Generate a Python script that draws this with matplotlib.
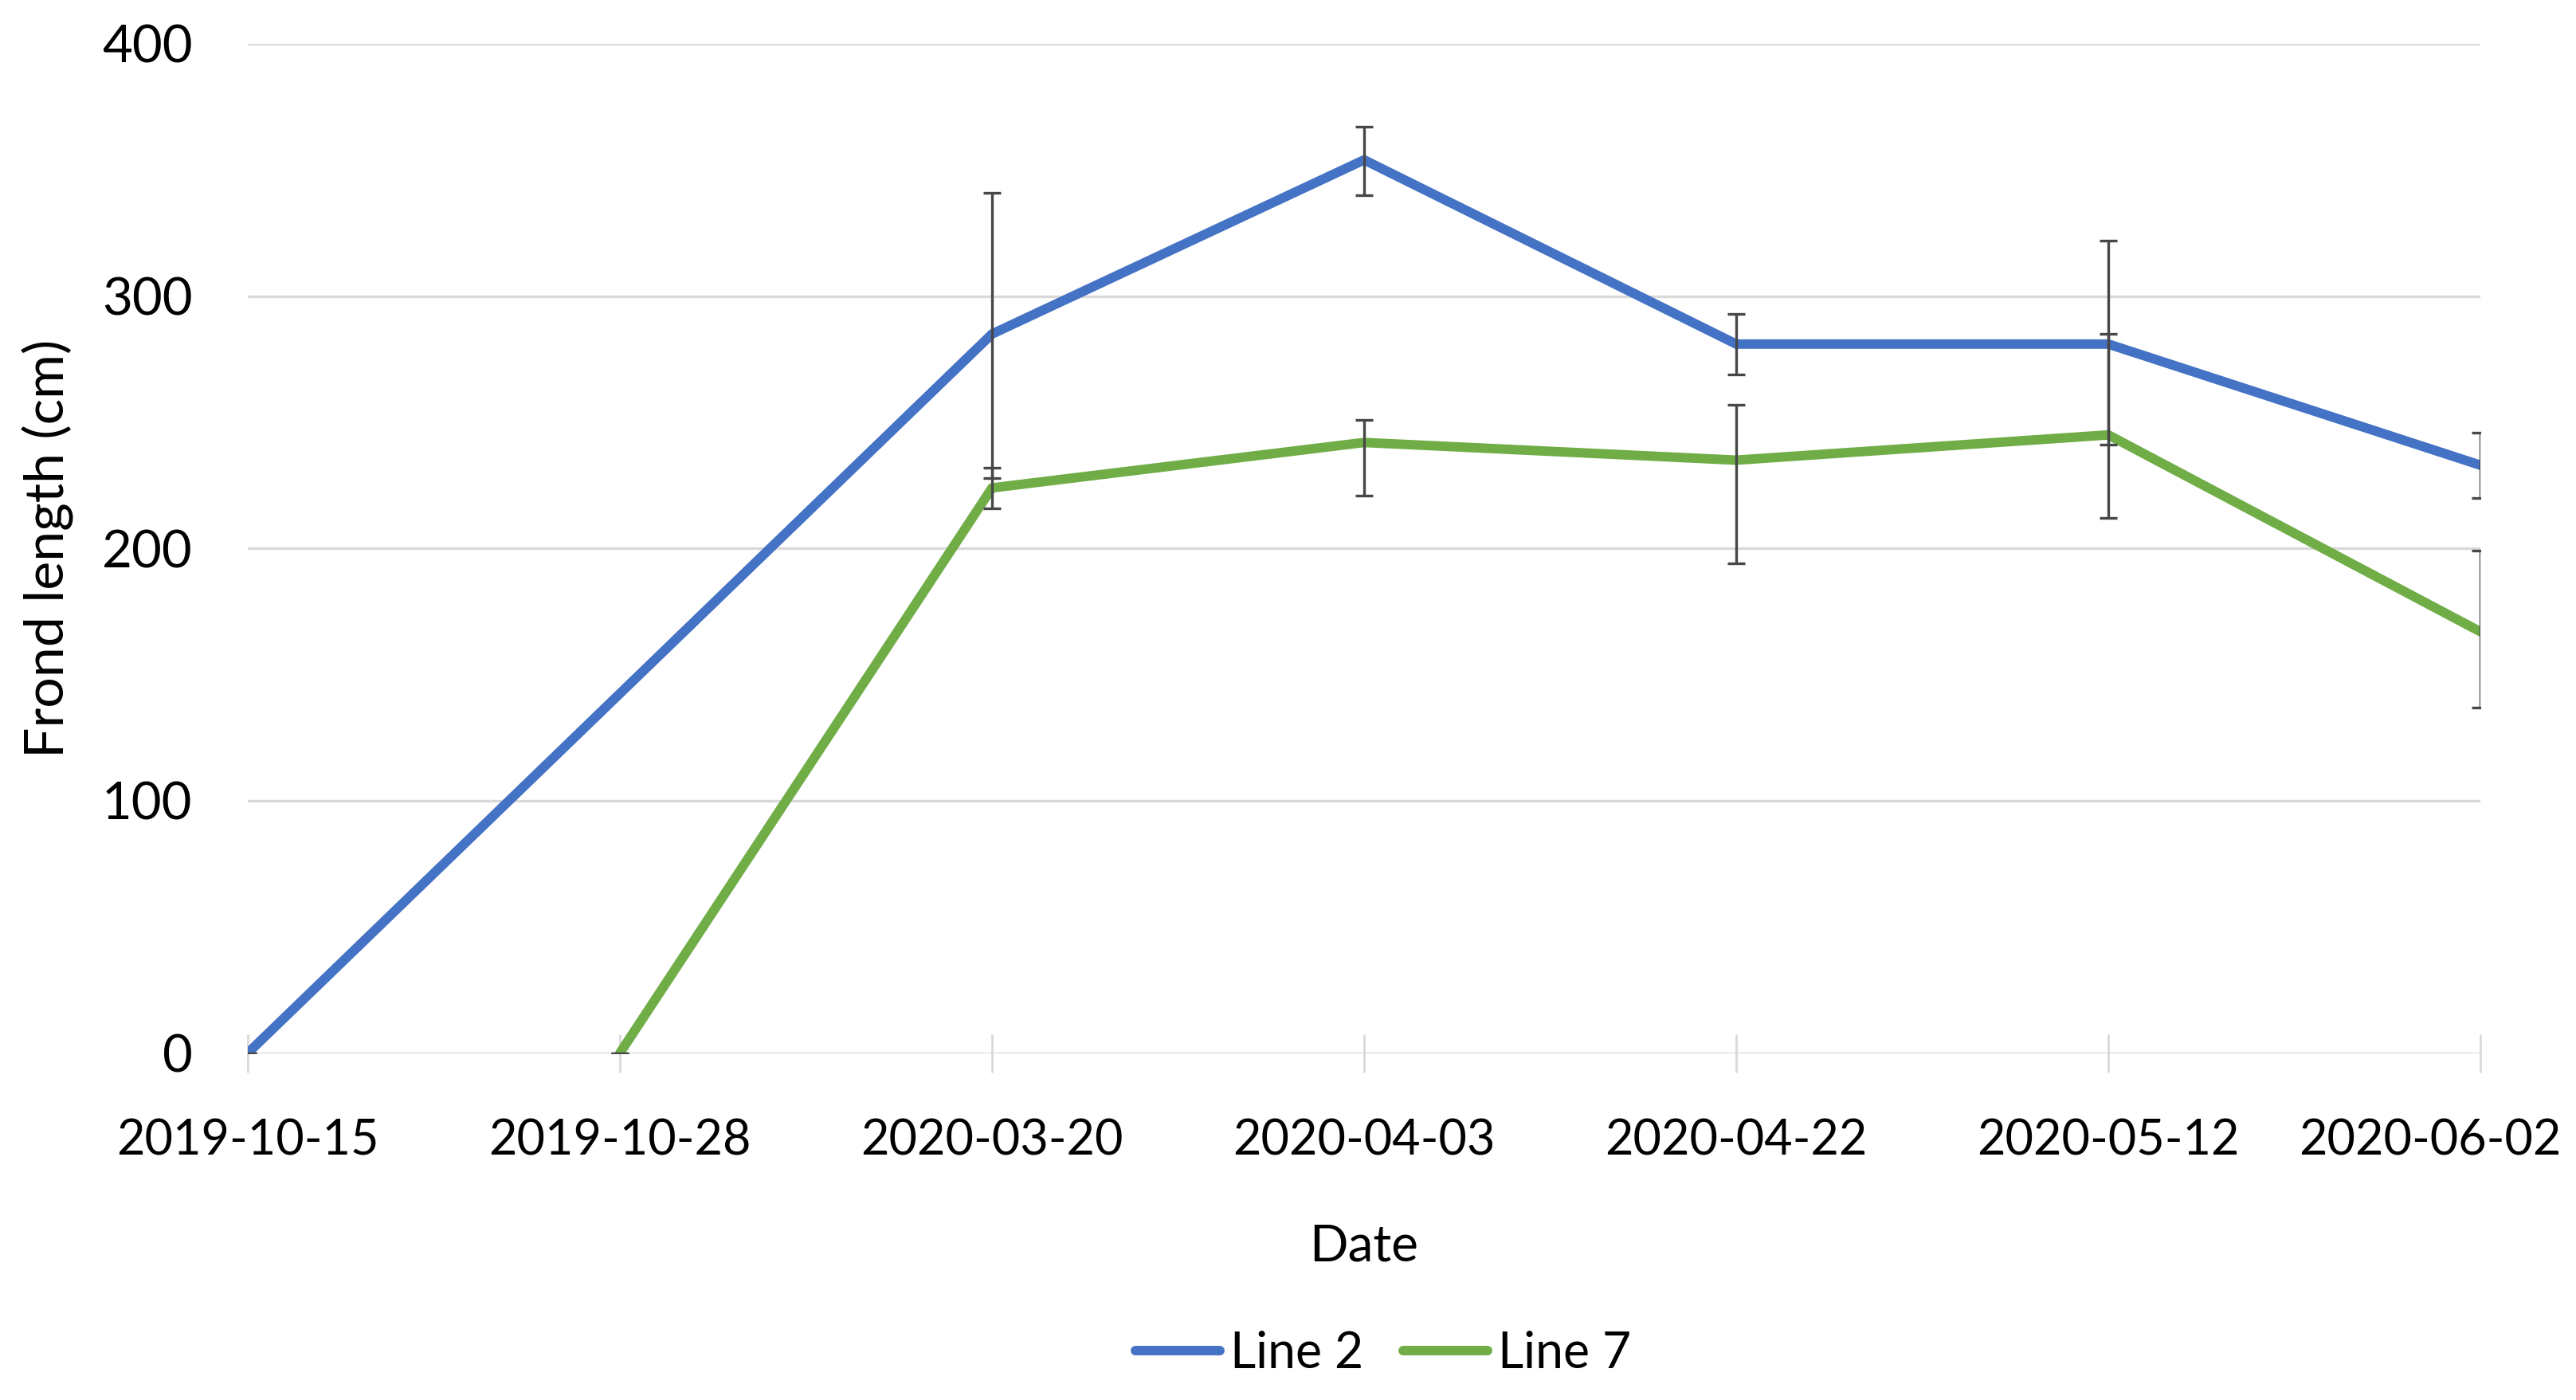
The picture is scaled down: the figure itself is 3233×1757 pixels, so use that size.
import numpy as np
import matplotlib
matplotlib.use("Agg")
import matplotlib.pyplot as plt
from matplotlib.transforms import ScaledTranslation

dates = ["2019-10-15", "2019-10-28", "2020-03-20", "2020-04-03",
         "2020-04-22", "2020-05-12", "2020-06-02"]

# Line 2 (no value on 2019-10-28, Excel connects across the gap)
line2 = [0, np.nan, 285, 354, 281, 281, 233]
line2_err_lo = [0, np.nan, 57, 14, 12, 40, 13]
line2_err_hi = [0, np.nan, 56, 13, 12, 41, 13]

# Line 7 (starts on 2019-10-28)
line7 = [np.nan, 0, 224, 242, 235, 245, 167]
line7_err_lo = [np.nan, 0, 8, 21, 41, 33, 30]
line7_err_hi = [np.nan, 0, 8, 9, 22, 40, 32]

plt.rcParams["font.family"] = ["Lato", "DejaVu Sans"]

fig = plt.figure(figsize=(16.165, 8.785), dpi=200)
ax = fig.add_axes([0.0962, 0.2478, 0.8667, 0.7209])

x = np.arange(len(dates))
series = [
    ("Line 2", line2, line2_err_lo, line2_err_hi, "#4472C4"),
    ("Line 7", line7, line7_err_lo, line7_err_hi, "#70AD47"),
]
for name, vals, lo, hi, col in series:
    vals = np.array(vals, dtype=float)
    lo = np.array(lo, dtype=float)
    hi = np.array(hi, dtype=float)
    m = np.isfinite(vals)
    ax.plot(x[m], vals[m], color=col, lw=4.3, label=name,
            solid_capstyle="round", solid_joinstyle="round", zorder=3)
    ax.errorbar(x[m], vals[m], yerr=[lo[m], hi[m]], fmt="none",
                ecolor="#474747", elinewidth=1.2, capsize=4, capthick=1.2,
                zorder=4)

ax.set_xlim(0, len(dates) - 1)
ax.set_ylim(0, 400)
ax.set_yticks([0, 100, 200, 300, 400])
ax.set_xticks(x)
ax.set_xticklabels(dates)

ax.grid(True, axis="y", color="#D9D9D9", lw=1.2, zorder=0)
ax.set_axisbelow(True)
for s in ax.spines.values():
    s.set_visible(False)

ax.tick_params(axis="y", length=0, pad=25, labelsize=23.5)
ax.tick_params(axis="x", direction="inout", length=17, width=1.0,
               color="#D9D9D9", pad=21, labelsize=22)

ax.set_xlabel("Date", fontsize=23, labelpad=27)
ax.set_ylabel("Frond length (cm)", fontsize=24.5, labelpad=12.5)

# last date label is pulled left so it stays inside the figure, like Excel does
last = ax.get_xticklabels()[-1]
last.set_transform(last.get_transform()
                   + ScaledTranslation(-63 / 200, 0, fig.dpi_scale_trans))

ax.legend(loc="center", bbox_to_anchor=(0.537, 0.033),
          bbox_transform=fig.transFigure, ncol=2, frameon=False,
          fontsize=22.5, handlelength=1.7, handletextpad=0.2,
          columnspacing=0.8)

plt.savefig("out.png", dpi=200)
